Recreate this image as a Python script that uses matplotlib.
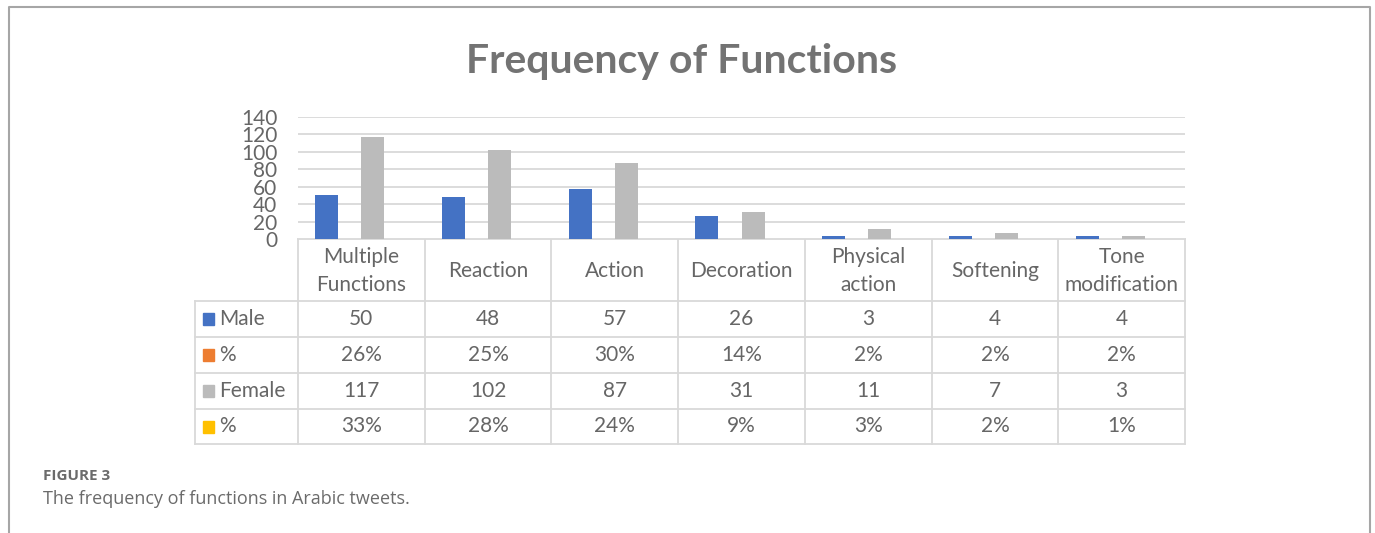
import matplotlib.pyplot as plt
from matplotlib.lines import Line2D
from matplotlib.patches import Rectangle

categories = ['Multiple\nFunctions', 'Reaction', 'Action', 'Decoration',
              'Physical\naction', 'Softening', 'Tone\nmodification']
male = [50, 48, 57, 26, 3, 4, 4]
male_pct = [0.26, 0.25, 0.30, 0.14, 0.02, 0.02, 0.02]
female = [117, 102, 87, 31, 11, 7, 3]
female_pct = [0.33, 0.28, 0.24, 0.09, 0.03, 0.02, 0.01]

series_names = ['Male', '%', 'Female', '%']
series_vals = [male, male_pct, female, female_pct]
series_cols = ['#4472C4', '#ED7D31', '#BBBBBB', '#FFC000']
row_text = [
    [str(v) for v in male],
    [f'{round(v * 100)}%' for v in male_pct],
    [str(v) for v in female],
    [f'{round(v * 100)}%' for v in female_pct],
]

W, H = 1375, 533
TXT = '#666666'
GRID = '#D9D9D9'
FONT = 'Lato'

fig = plt.figure(figsize=(W / 100, H / 100), dpi=100)

# plot area in pixels
left, right, top, bottom = 298, 1185, 117, 239
ax = fig.add_axes([left / W, 1 - bottom / H, (right - left) / W, (bottom - top) / H])

n = len(categories)
slot = 23 / ((right - left) / n)
xs = range(n)
for k, (vals, col) in enumerate(zip(series_vals, series_cols)):
    off = (k - 1.5) * slot
    ax.bar([x + off for x in xs], vals, width=slot, color=col, zorder=3)

ax.set_xlim(-0.5, n - 0.5)
ax.set_ylim(0, 140)
ax.set_yticks(range(0, 141, 20))
ax.set_xticks([])
ax.tick_params(axis='y', length=0, pad=15, labelsize=15, labelcolor=TXT)
for lab in ax.get_yticklabels():
    lab.set_fontfamily(FONT)
ax.grid(axis='y', color=GRID, lw=1.3, zorder=0)
for s in ax.spines.values():
    s.set_visible(False)

# overlay in pixel coordinates for frame, title, table, caption
ov = fig.add_axes([0, 0, 1, 1], zorder=-1)
ov.set_xlim(0, W)
ov.set_ylim(H, 0)
ov.axis('off')

# outer frame
ov.plot([9, 9, 1370, 1370], [H, 7, 7, H], color='#A6A6A6', lw=1.5)

ov.text(682, 61, 'Frequency of Functions', ha='center', va='center',
        fontsize=29.5, fontweight='bold', color='#737373', family=FONT)

# data table
col_w = (right - left) / n
edges = [left + i * col_w for i in range(n + 1)]
row_edges = [239, 301, 337, 373, 409, 444]
lab_left = 195
for x in edges:
    ov.add_line(Line2D([x, x], [row_edges[0], row_edges[-1]], color=GRID, lw=1.3))
ov.add_line(Line2D([lab_left, lab_left], [row_edges[1], row_edges[-1]], color=GRID, lw=1.3))
ov.add_line(Line2D([left, right], [row_edges[0]] * 2, color=GRID, lw=1.3))
for y in row_edges[1:]:
    ov.add_line(Line2D([lab_left, right], [y, y], color=GRID, lw=1.3))

fs = 15
for i, c in enumerate(categories):
    ov.text((edges[i] + edges[i + 1]) / 2, (row_edges[0] + row_edges[1]) / 2 + 1, c,
            ha='center', va='center', fontsize=fs, color=TXT, family=FONT,
            linespacing=1.45)
for r, (name, col, texts) in enumerate(zip(series_names, series_cols, row_text)):
    yc = (row_edges[r + 1] + row_edges[r + 2]) / 2
    ov.add_patch(Rectangle((203, yc - 6), 11, 12, color=col))
    ov.text(219, yc, name, ha='left', va='center', fontsize=fs, color=TXT, family=FONT)
    for i, t in enumerate(texts):
        ov.text((edges[i] + edges[i + 1]) / 2, yc, t, ha='center', va='center',
                fontsize=fs, color=TXT, family=FONT)

# caption
ov.text(43, 476, 'FIGURE 3', ha='left', va='center', fontsize=11,
        fontweight='bold', color='#6b6b6b', family='Open Sans')
ov.text(43, 499, 'The frequency of functions in Arabic tweets.', ha='left',
        va='center', fontsize=13, color='#6b6b6b', family='Open Sans')

fig.savefig('out.png', dpi=100)
